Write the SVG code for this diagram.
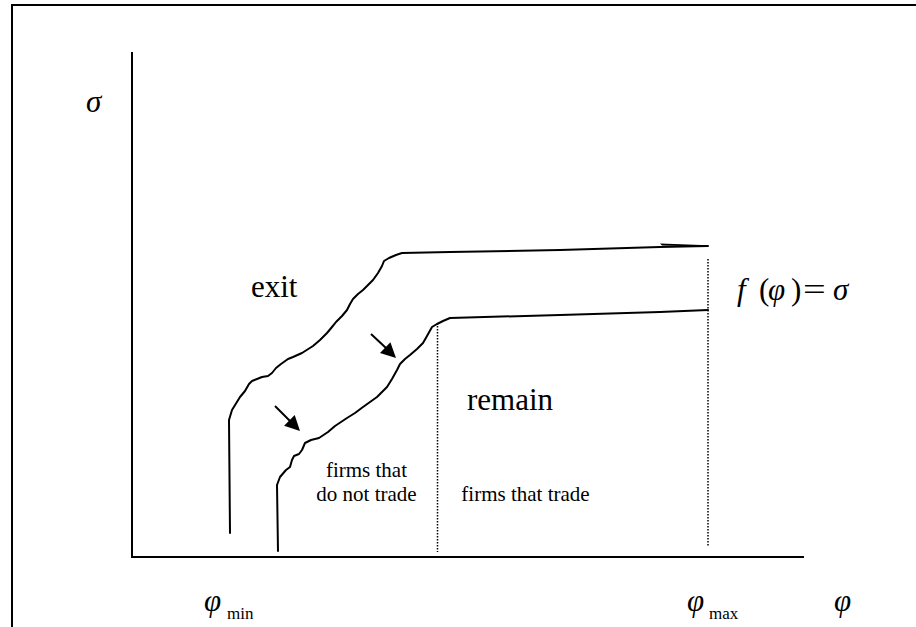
<svg xmlns="http://www.w3.org/2000/svg" width="916" height="627" viewBox="0 0 916 627">
  <style>
    .frame { fill: none; stroke: #000; stroke-width: 2; }
    .axis { fill: none; stroke: #000; stroke-width: 2; }
    .curve { fill: none; stroke: #000; stroke-width: 2; stroke-linejoin: round; stroke-linecap: round; }
    .dots { fill: none; stroke: #000; stroke-width: 1.5; stroke-dasharray: 1.5 1.5; }
    .arrow { fill: none; stroke: #000; stroke-width: 2; }
    .head { fill: #000; }
    text { font-family: 'Liberation Serif', 'Times New Roman', 'DejaVu Serif', serif; fill: #000; }
    .big { font-size: 31px; }
    .small { font-size: 21px; }
    .math { font-style: italic; font-size: 31px; }
    .up { font-style: normal; font-size: 31px; }
    .sub { font-size: 17px; }
  </style>
  <rect width="916" height="627" fill="#fff"/>

  <!-- page frame: top and left edges -->
  <path class="frame" d="M12,627 L12,5 L916,5"/>

  <!-- axes -->
  <g id="axes">
    <path class="axis" d="M132,52 L132,557 L804,557"/>
  </g>

  <!-- boundary curves and divider lines -->
  <g id="connectors">
    <!-- outer (exit) boundary -->
    <path id="outer-boundary" class="curve" d="M230,533 L229,420 L232,410 L240,397 L245,391 L249,384 L252,381 L257,379 L262,377 L268,376 L272,373 L276,368 L281,364 L288,359 L293,357 L302,353 L313,346 L320,340 L327,333 L332,327 L336,322 L342,316 L347,310 L350,304 L353,299 L358,294 L363,290 L368,285 L373,280 L378,273 L382,266 L384,261 L389,258 L396,255 L402,253 L450,252 L560,250 L660,247 L708,246"/>
    <path id="outer-tip" d="M660,243.5 L708,245.2 L708,246.8 L662,245.5 z" fill="#000"/>
    <!-- inner (trade) boundary -->
    <path id="inner-boundary" class="curve" d="M278,551 L277,485 L280,477 L286,470 L290,467 L292,460 L294,456 L299,454 L302,450 L305,443 L311,440 L319,438 L328,432 L335,426 L341,422 L347,418 L355,413 L363,407 L370,402 L377,397 L383,391 L387,387 L392,379 L397,370 L400,364 L405,359 L410,355 L417,349 L423,343 L427,336 L432,327 L437,324 L443,321 L450,318 L560,315 L660,312 L708,310"/>
    <!-- cutoff lines -->
    <path class="dots" d="M437.5,323 L437.5,552"/>
    <path class="dots" d="M708,259 L708,547"/>
    <!-- shift arrows -->
    <g id="arrow-upper">
      <path class="arrow" d="M371,334 L386,348"/>
      <path class="head" d="M396,358 L380,353 L390.4,342.2 z"/>
    </g>
    <g id="arrow-lower">
      <path class="arrow" d="M275,406 L290,421"/>
      <path class="head" d="M300,431 L284.1,425.7 L294.7,415.1 z"/>
    </g>
  </g>

  <!-- labels -->
  <g id="label-sigma"><text class="math" x="86" y="112">σ</text></g>
  <g id="label-exit"><text class="big" x="251" y="297">exit</text></g>
  <g id="label-remain"><text class="big" x="467" y="410">remain</text></g>
  <g id="label-notrade">
    <text class="small" x="366.5" y="477" text-anchor="middle">firms that</text>
    <text class="small" x="366.5" y="501" text-anchor="middle">do not trade</text>
  </g>
  <g id="label-trade"><text class="small" x="525.5" y="501" text-anchor="middle">firms that trade</text></g>
  <g id="label-f">
    <text class="math" y="300"><tspan x="737">f</tspan><tspan class="up" x="759">(</tspan><tspan x="768">φ</tspan><tspan class="up" x="791">)</tspan><tspan x="833">σ</tspan></text>
    <text class="up" transform="translate(803,300) scale(1.3,1)">=</text>
  </g>
  <g id="label-phimin"><text class="math" x="204" y="611">φ</text><text class="sub" x="227" y="619">min</text></g>
  <g id="label-phimax"><text class="math" x="687" y="611">φ</text><text class="sub" x="709" y="619">max</text></g>
  <g id="label-phi"><text class="math" x="834" y="611">φ</text></g>
</svg>
